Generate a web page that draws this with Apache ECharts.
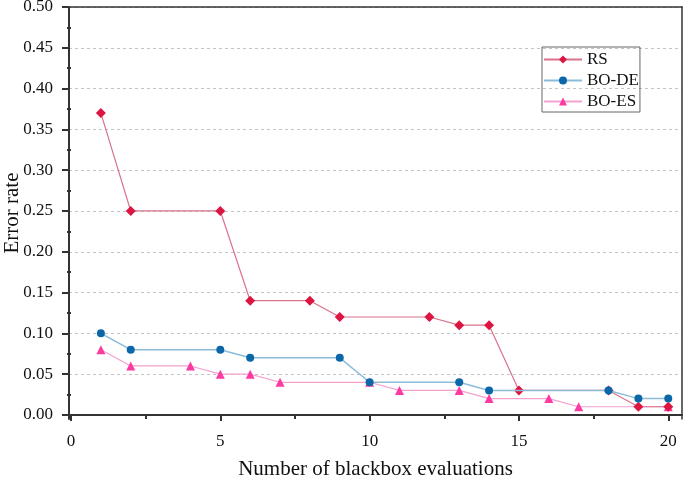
<!DOCTYPE html>
<html>
<head>
<meta charset="utf-8">
<script src="https://cdn.jsdelivr.net/npm/echarts@6/dist/echarts.min.js"></script>
<style>html,body{margin:0;padding:0;background:#fff}#c{width:685px;height:482px}</style>
</head>
<body>
<div id="c"></div>
<script>
const rsX = [1, 2, 5, 6, 8, 9, 12, 13, 14, 15, 18, 19, 20];
const rsY = [0.37, 0.25, 0.25, 0.14, 0.14, 0.12, 0.12, 0.11, 0.11, 0.03, 0.03, 0.01, 0.01];
const deX = [1, 2, 5, 6, 9, 10, 13, 14, 18, 19, 20];
const deY = [0.10, 0.08, 0.08, 0.07, 0.07, 0.04, 0.04, 0.03, 0.03, 0.02, 0.02];
const esX = [1, 2, 4, 5, 6, 7, 10, 11, 13, 14, 16, 17, 20];
const esY = [0.08, 0.06, 0.06, 0.05, 0.05, 0.04, 0.04, 0.03, 0.03, 0.02, 0.02, 0.01, 0.01];
const xTicks = [0, 5, 10, 15, 20];
const xMinor = [2.5, 7.5, 12.5, 17.5];
const yTicks = [0, 0.05, 0.10, 0.15, 0.20, 0.25, 0.30, 0.35, 0.40, 0.45, 0.50];
const yMinor = [0.025, 0.075, 0.125, 0.175, 0.225, 0.275, 0.325, 0.375, 0.425, 0.475];

const FONT = 'Liberation Serif';
const X_MIN = -0.067, X_MAX = 20.46, Y_MIN = -0.005, Y_MAX = 0.5;
const zip = (xs, ys) => xs.map((x, i) => [x, ys[i]]);
const axisCol = '#333';

const chart = echarts.init(document.getElementById('c'), null, {renderer: 'canvas'});
const gridBox = {left: 69, right: 3, top: 7, bottom: 63, outerBoundsMode: 'none'};
chart.setOption({
  animation: false,
  backgroundColor: '#fff',
  textStyle: {fontFamily: FONT},
  grid: [Object.assign({}, gridBox), Object.assign({}, gridBox)],
  legend: {
    orient: 'vertical',
    left: 542, top: 47,
    padding: [4, 1, 2, 1],
    itemGap: 4,
    itemWidth: 38, itemHeight: 10,
    borderColor: '#666', borderWidth: 1,
    textStyle: {fontFamily: FONT, fontSize: 17, color: '#111'},
    data: ['RS', 'BO-DE', 'BO-ES']
  },
  xAxis: [
    {
      type: 'value', gridIndex: 0, min: X_MIN, max: X_MAX,
      name: 'Number of blackbox evaluations', nameLocation: 'middle', nameGap: 40, nameMoveOverlap: false,
      nameTextStyle: {fontFamily: FONT, fontSize: 21, color: '#111'},
      axisLine: {show: true, lineStyle: {color: axisCol, width: 2}},
      axisTick: {show: true, inside: false, length: 6, customValues: xTicks, lineStyle: {color: axisCol, width: 2}},
      axisLabel: {customValues: xTicks, fontFamily: FONT, fontSize: 17, color: '#111', margin: 14},
      splitLine: {show: false}
    },
    {
      type: 'value', gridIndex: 0, position: 'top', min: X_MIN, max: X_MAX,
      axisLine: {show: true, onZero: false, lineStyle: {color: axisCol, width: 1.5}},
      axisTick: {show: false}, axisLabel: {show: false}, splitLine: {show: false}
    },
    {
      type: 'value', gridIndex: 1, min: X_MIN, max: X_MAX,
      axisLine: {show: false},
      axisTick: {show: true, length: 4, customValues: xMinor, lineStyle: {color: axisCol, width: 2}},
      axisLabel: {show: false}, splitLine: {show: false}
    }
  ],
  yAxis: [
    {
      type: 'value', gridIndex: 0, min: Y_MIN, max: Y_MAX,
      name: 'Error rate', nameLocation: 'middle', nameGap: 46, nameMoveOverlap: false,
      nameTextStyle: {fontFamily: FONT, fontSize: 21, color: '#111'},
      axisLine: {show: true, onZero: false, lineStyle: {color: axisCol, width: 2}},
      axisTick: {show: true, inside: false, length: 7, customValues: yTicks, lineStyle: {color: axisCol, width: 2}},
      axisLabel: {customValues: yTicks, fontFamily: FONT, fontSize: 17, color: '#111', margin: 16,
        formatter: v => v.toFixed(2)},
      splitLine: {show: true, lineStyle: {color: '#c4c4c4', width: 1, type: [3, 3]}}
    },
    {
      type: 'value', gridIndex: 0, position: 'right', min: Y_MIN, max: Y_MAX,
      axisLine: {show: true, onZero: false, lineStyle: {color: axisCol, width: 1.5}},
      axisTick: {show: false}, axisLabel: {show: false}, splitLine: {show: false}
    },
    {
      type: 'value', gridIndex: 1, min: Y_MIN, max: Y_MAX,
      axisLine: {show: false},
      axisTick: {show: true, length: 4, customValues: yMinor, lineStyle: {color: axisCol, width: 2}},
      axisLabel: {show: false}, splitLine: {show: false}
    }
  ],
  series: [
    {
      name: 'RS', type: 'line', xAxisIndex: 0, yAxisIndex: 0,
      data: zip(rsX, rsY), symbol: 'diamond', symbolSize: 10,
      itemStyle: {color: '#dc1541'}, lineStyle: {color: '#d9728a', width: 1.2}, z: 3
    },
    {
      name: 'BO-DE', type: 'line', xAxisIndex: 0, yAxisIndex: 0,
      data: zip(deX, deY), symbol: 'circle', symbolSize: 8,
      itemStyle: {color: '#0b67a8'}, lineStyle: {color: '#8dbcd8', width: 1.5}, z: 4
    },
    {
      name: 'BO-ES', type: 'line', xAxisIndex: 0, yAxisIndex: 0,
      data: zip(esX, esY), symbol: 'triangle', symbolSize: 9,
      itemStyle: {color: '#fb3aa2'}, lineStyle: {color: '#f4a1cf', width: 1.2}, z: 2
    }
  ]
});
</script>
</body>
</html>
